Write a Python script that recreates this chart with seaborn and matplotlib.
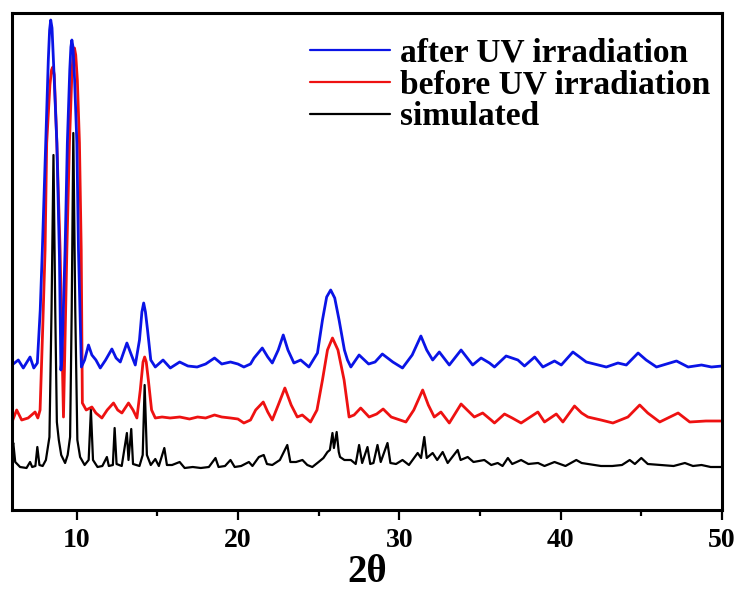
import numpy as np
import pandas as pd
import matplotlib
matplotlib.use('Agg')
import matplotlib.pyplot as plt
from matplotlib.ticker import MultipleLocator
import seaborn as sns

# traces (2theta, intensity in a.u.)
after_x = [6.0, 6.39, 6.7, 7.12, 7.35, 7.57, 7.75, 7.88, 8.09, 8.25, 8.33, 8.40, 8.48, 8.58, 8.78,
           8.94, 9.03, 9.09, 9.29, 9.43, 9.58, 9.65, 9.71, 9.78, 9.88, 10.02, 10.12, 10.3, 10.5,
           10.74, 10.95, 11.2, 11.47, 11.8, 12.19, 12.45, 12.71, 13.12, 13.4, 13.64, 13.9, 14.05,
           14.16, 14.27, 14.4, 14.6, 14.88, 15.36, 15.81, 16.39, 16.9, 17.47, 18.0, 18.55, 19.0,
           19.54, 20.0, 20.37, 20.78, 21.0, 21.51, 21.85, 22.13, 22.5, 22.81, 23.1, 23.47, 23.89,
           24.4, 24.93, 25.24, 25.5, 25.75, 26.0, 26.27, 26.6, 26.79, 27.0, 27.51, 28.1, 28.5,
           28.95, 29.6, 30.2, 30.8, 31.34, 31.7, 32.07, 32.48, 33.1, 33.83, 34.55, 35.07, 35.59,
           35.9, 36.62, 37.35, 37.76, 38.39, 38.9, 39.62, 40.04, 40.76, 41.59, 42.83, 43.55, 44.07,
           44.8, 45.3, 45.94, 47.18, 47.9, 48.73, 49.35, 50.0]
after_y = [145, 150, 142, 153, 142, 147, 200, 260, 367, 450, 480, 490, 482, 445, 367,
           253, 140, 150, 260, 367, 440, 463, 470, 463, 430, 367, 260, 143, 150,
           165, 155, 150, 142, 150, 161, 152, 148, 167, 155, 145, 170, 198,
           207, 198, 180, 150, 143, 150, 142, 148, 144, 143, 146, 152, 146,
           148, 146, 143, 146, 152, 162, 153, 147, 160, 175, 160, 147, 150,
           143, 157, 190, 213, 220, 212, 190, 160, 150, 143, 155, 146, 148,
           156, 148, 142, 155, 174, 160, 150, 158, 145, 160, 145, 152, 147,
           143, 154, 150, 144, 153, 143, 149, 145, 158, 148, 143, 147, 145,
           157, 150, 143, 149, 143, 145, 143, 144]

before_x = [6.0, 6.29, 6.6, 7.0, 7.43, 7.6, 7.74, 7.9, 8.05, 8.15, 8.35, 8.45, 8.53, 8.62, 8.78,
            8.98, 9.19, 9.4, 9.56, 9.72, 9.8, 9.87, 9.95, 10.05, 10.18, 10.29, 10.36, 10.6, 10.95,
            11.2, 11.57, 11.9, 12.29, 12.55, 12.81, 13.22, 13.5, 13.74, 13.95, 14.12, 14.22, 14.32,
            14.45, 14.65, 14.88, 15.3, 15.8, 16.4, 17.0, 17.5, 18.0, 18.55, 19.0, 19.54, 20.0,
            20.37, 20.78, 21.1, 21.57, 21.85, 22.13, 22.5, 22.91, 23.3, 23.68, 23.99, 24.5, 24.9,
            25.24, 25.55, 25.86, 26.2, 26.58, 26.89, 27.2, 27.61, 28.13, 28.6, 29.0, 29.5, 30.41,
            30.9, 31.45, 31.8, 32.17, 32.58, 33.1, 33.83, 34.65, 35.17, 35.69, 35.9, 36.52, 37.0,
            37.55, 38.59, 39.0, 39.73, 40.14, 40.86, 41.3, 41.69, 42.5, 43.24, 44.17, 44.9, 45.4,
            46.14, 47.28, 48.0, 49.0, 50.0]
before_y = [88, 100, 90, 92, 98, 92, 100, 180, 260, 367, 425, 440, 443, 435, 367,
            260, 93, 260, 367, 440, 457, 462, 455, 430, 367, 260, 107, 100, 103,
            97, 92, 100, 107, 100, 97, 107, 100, 92, 120, 148, 153, 148,
            130, 100, 92, 93, 92, 93, 91, 93, 92, 95, 93, 92, 91,
            87, 90, 100, 108, 98, 90, 105, 122, 105, 93, 95, 88, 100,
            130, 160, 172, 160, 130, 93, 95, 102, 93, 96, 101, 93, 88,
            100, 120, 105, 93, 98, 87, 106, 93, 97, 90, 87, 96, 92,
            87, 98, 88, 96, 88, 104, 97, 93, 90, 87, 93, 105, 97,
            88, 97, 88, 89, 89]

sim_x = [6.0, 6.08, 6.2, 6.5, 6.9, 7.12, 7.25, 7.45, 7.57, 7.7, 7.9, 8.1, 8.32, 8.45, 8.57, 8.68,
         8.78, 8.9, 9.05, 9.29, 9.45, 9.6, 9.7, 9.8, 9.92, 10.05, 10.22, 10.5, 10.75, 10.89, 11.02,
         11.3, 11.6, 11.88, 12.0, 12.25, 12.36, 12.48, 12.8, 13.12, 13.22, 13.39, 13.5, 13.9, 14.1,
         14.22, 14.36, 14.6, 14.88, 15.1, 15.44, 15.6, 15.92, 16.39, 16.7, 17.2, 17.7, 18.2, 18.61,
         18.8, 19.2, 19.54, 19.8, 20.2, 20.68, 20.9, 21.3, 21.6, 21.8, 22.13, 22.6, 23.06, 23.25,
         23.6, 24.0, 24.3, 24.61, 25.0, 25.3, 25.55, 25.7, 25.86, 25.95, 26.12, 26.25, 26.33, 26.6,
         27.0, 27.3, 27.51, 27.7, 28.03, 28.2, 28.4, 28.65, 28.85, 29.27, 29.45, 29.8, 30.2, 30.6,
         31.14, 31.35, 31.55, 31.7, 32.07, 32.35, 32.69, 33.0, 33.62, 33.8, 34.24, 34.6, 35.27,
         35.7, 36.1, 36.4, 36.73, 37.0, 37.55, 38.0, 38.6, 39.0, 39.62, 40.3, 40.97, 41.3, 41.7,
         42.5, 43.2, 43.8, 44.28, 44.6, 45.0, 45.4, 46.2, 47.0, 47.7, 48.2, 48.73, 49.3, 50.0]
sim_y = [62, 67, 48, 43, 42, 48, 43, 44, 63, 45, 44, 50, 73, 200, 355, 200,
         88, 70, 55, 47, 55, 73, 200, 377, 200, 70, 53, 45, 50, 100, 50,
         43, 44, 53, 44, 45, 82, 46, 44, 77, 50, 81, 46, 44, 55,
         125, 55, 45, 51, 44, 62, 45, 45, 48, 42, 43, 42, 43, 52,
         43, 44, 50, 43, 44, 48, 44, 53, 55, 46, 45, 50, 65, 48,
         48, 50, 45, 43, 48, 52, 58, 60, 77, 62, 78, 58, 53, 50,
         50, 46, 65, 47, 63, 46, 47, 65, 48, 67, 47, 46, 50, 45,
         57, 52, 73, 52, 57, 50, 58, 47, 60, 50, 53, 48, 50,
         45, 47, 44, 52, 46, 50, 46, 47, 44, 48, 44, 50, 47, 46,
         44, 44, 45, 50, 46, 52, 46, 45, 44, 47, 44, 45, 43, 43]

labels = ['after UV irradiation', 'before UV irradiation', 'simulated']
colors = ['#0a14e6', '#ee1111', '#000000']
x_ticks = [10, 20, 30, 40, 50]

sns.set_style('ticks')
plt.rcParams['font.family'] = ['Liberation Serif', 'DejaVu Serif']
plt.rcParams['font.weight'] = 'bold'
plt.rcParams['text.color'] = 'black'
plt.rcParams['xtick.color'] = 'black'
plt.rcParams['axes.labelcolor'] = 'black'

fig = plt.figure(figsize=(7.4, 5.97), dpi=100)
ax = fig.add_axes([12 / 740, 87 / 597, 710 / 740, 497 / 597])

# draw red, then blue, then black on top
sns.lineplot(x=before_x, y=before_y, ax=ax, color=colors[1], linewidth=2.0, label=labels[1], estimator=None)
sns.lineplot(x=after_x, y=after_y, ax=ax, color=colors[0], linewidth=2.0, label=labels[0], estimator=None)
sns.lineplot(x=sim_x, y=sim_y, ax=ax, color=colors[2], linewidth=1.6, label=labels[2], estimator=None)

ax.set_xlim(6, 50)
ax.set_ylim(0, 497)
ax.set_xticks(x_ticks)
ax.set_xticklabels([str(t) for t in x_ticks])
ax.xaxis.set_minor_locator(MultipleLocator(5))
ax.set_yticks([])
ax.set_ylabel('')
ax.tick_params(axis='x', which='major', direction='out', length=7, width=1.6,
               labelsize=20, pad=6, colors='black')
ax.tick_params(axis='x', which='minor', direction='out', length=4.5, width=1.6, colors='black')
for lab in ax.get_xticklabels():
    lab.set_fontweight('bold')
for sp in ax.spines.values():
    sp.set_linewidth(2.2)
    sp.set_color('black')

ax.set_xlabel('2θ', fontsize=28, fontweight='bold', labelpad=1, color='black')

handles, labs = ax.get_legend_handles_labels()
order = [labs.index(l) for l in labels]
leg = ax.legend([handles[i] for i in order], [labs[i] for i in order],
                loc='upper left', bbox_to_anchor=((310 - 12) / 710, (510 - 38) / 497),
                frameon=False, borderpad=0, borderaxespad=0,
                handlelength=2.4, handletextpad=0.3, labelspacing=0.02,
                prop={'family': 'Liberation Serif', 'weight': 'bold', 'size': 24})
for ln in leg.get_lines():
    ln.set_linewidth(1.6)
for t in leg.get_texts():
    t.set_color('black')

fig.savefig('out.png', dpi=100)
plt.close(fig)
